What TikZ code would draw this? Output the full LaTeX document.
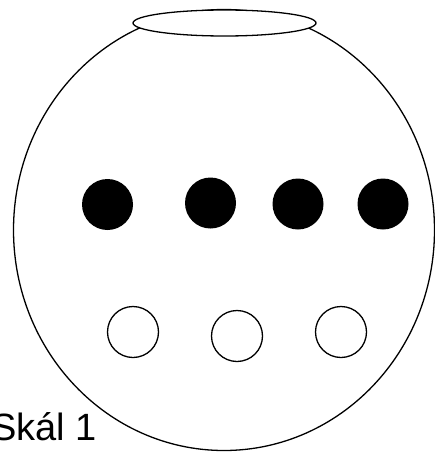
\documentclass[tikz,border=0pt]{standalone}
\usepackage{fontspec}
\newfontfamily\labelfont{Liberation Sans}
\usetikzlibrary{shapes.geometric, positioning}

\tikzset{
  bowl/.style={draw, ellipse, line width=1.3pt, inner sep=0pt},
  rim/.style={draw, ellipse, fill=white, line width=1.3pt, inner sep=0pt,
    minimum width=183, minimum height=26},
  fullball/.style={circle, fill=black, inner sep=0pt, minimum size=51},
  emptyball/.style={circle, draw, line width=1.3pt, inner sep=0pt, minimum size=51},
}

\begin{document}
\begin{tikzpicture}[x=1pt, y=-1pt]
  \useasboundingbox (0,0) rectangle (435,452);
  % bowl and its opening
  \node[bowl, minimum width=421, minimum height=441] (bowl) at (224,230) {};
  \node[rim] (rim) at (224.5,23) {};
  % black balls: \node[fullball] at (x,y)
  \node[fullball] (b1) at (107.5,204.5) {};
  \node[fullball] (b2) at (210.5,203) {};
  \node[fullball] (b3) at (298,204) {};
  \node[fullball] (b4) at (383,204) {};
  % white balls
  \node[emptyball] (w1) at (133,332) {};
  \node[emptyball] (w2) at (237,336) {};
  \node[emptyball] (w3) at (341,332) {};
  % label
  \node[anchor=base east, inner sep=0pt, font=\labelfont\fontsize{38}{40}\selectfont]
    (name) at (97,440) {Skál 1};
\end{tikzpicture}
\end{document}
